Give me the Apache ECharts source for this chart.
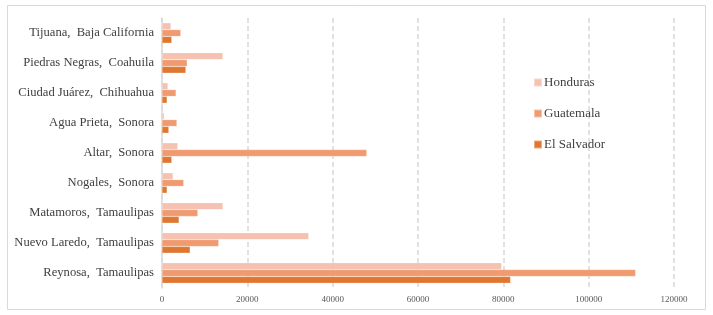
<!DOCTYPE html>
<html>
<head>
<meta charset="utf-8">
<script src="https://cdn.jsdelivr.net/npm/echarts@6/dist/echarts.min.js"></script>
<style>
  html, body { margin: 0; padding: 0; background: #fff; }
  #chart { width: 713px; height: 315px; }
</style>
</head>
<body>
<div id="chart"></div>
<script>
// categories, bottom to top
let cities = ['Reynosa,  Tamaulipas', 'Nuevo Laredo,  Tamaulipas', 'Matamoros,  Tamaulipas',
  'Nogales,  Sonora', 'Altar,  Sonora', 'Agua Prieta,  Sonora', 'Ciudad Juárez,  Chihuahua',
  'Piedras Negras,  Coahuila', 'Tijuana,  Baja California'];
let elSalvador = [81700, 6600, 4000, 1200, 2300, 1600, 1200, 5600, 2300];
let guatemala = [111000, 13300, 8400, 5100, 48000, 3500, 3300, 5900, 4400];
let honduras = [79600, 34400, 14300, 2600, 3700, 500, 1400, 14300, 2100];

let chart = echarts.init(document.getElementById('chart'));

function bar(name, data, color){
  return {
    name: name,
    type: 'bar',
    data: data,
    barGap: '0%',
    barCategoryGap: '32%',
    itemStyle: { color: color, borderColor: 'rgba(255,255,255,0.4)', borderWidth: 0.5 }
  };
}

chart.setOption({
  animation: false,
  textStyle: { fontFamily: 'Liberation Serif' },
  graphic: [{
    type: 'rect',
    shape: { x: 7.5, y: 5.5, width: 698, height: 304 },
    style: { fill: 'none', stroke: '#d9d9d9', lineWidth: 1 }
  }],
  grid: { left: 162, right: 39, top: 18, bottom: 27 },
  legend: {
    orient: 'vertical',
    left: 528,
    top: 71,
    itemGap: 18,
    itemWidth: 8,
    itemHeight: 8,
    icon: 'rect',
    data: ['Honduras', 'Guatemala', 'El Salvador'],
    textStyle: { fontFamily: 'Liberation Serif', fontSize: 13, color: '#404040', padding: [0, 0, 0, -3] }
  },
  xAxis: {
    type: 'value',
    min: 0,
    max: 120000,
    interval: 20000,
    axisLine: { show: false },
    axisTick: { show: false },
    axisLabel: { fontSize: 9, color: '#595959', margin: 7, formatter: function(v){ return String(v); } },
    splitLine: { lineStyle: { color: '#d9d9d9', type: [5, 3], width: 1.5 } }
  },
  yAxis: {
    type: 'category',
    data: cities,
    axisLine: { lineStyle: { color: '#d9d9d9', width: 1.5 } },
    axisTick: { show: false },
    axisLabel: { fontSize: 12.6, color: '#404040', margin: 8 }
  },
  series: [
    bar('Honduras', honduras, '#f5c1b0'),
    bar('Guatemala', guatemala, '#f09a70'),
    bar('El Salvador', elSalvador, '#e07730')
  ]
});
</script>
</body>
</html>
